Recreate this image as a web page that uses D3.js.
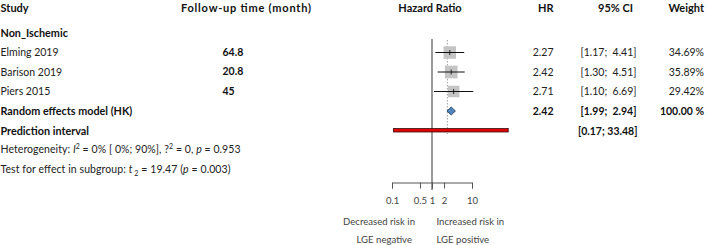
<!DOCTYPE html>
<html>
<head>
<meta charset="utf-8">
<script src="https://cdn.jsdelivr.net/npm/d3@7"></script>
<style>
  body { margin: 0; background: #fff; }
  svg { display: block; font-family: Lato, "Open Sans", sans-serif; }
</style>
</head>
<body>
<div id="chart"></div>
<script>
// ---- data ----
const studies = ["Elming 2019", "Barison 2019", "Piers 2015"];
const followUp = ["64.8", "20.8", "45"];
const hr = [2.27, 2.42, 2.71];
const lower = [1.17, 1.30, 1.10];
const upper = [4.41, 4.51, 6.69];
const weights = [34.69, 35.89, 29.42];
const pooled = [2.42, 1.99, 2.94];          // HR, lower, upper
const predInterval = [0.17, 33.48];
const axisTicks = [0.1, 0.5, 1, 2, 10];
const headers = ["Study", "Follow-up time (month)", "Hazard Ratio", "HR", "95% CI", "Weight"];

const width = 708, height = 245;
const svg = d3.select("#chart").append("svg")
  .attr("width", width).attr("height", height);

// row positions
const y = d3.scaleLinear().domain([0, 1]).range([33, 52.5]);
// marks scale and the printed axis scale (the axis in the figure is drawn narrower)
const x = d3.scaleLog().domain([1, 10]).range([432, 482]);
const xAxisScale = d3.scaleLog().domain([0.1, 10]).range([392, 472]);

const fmt = d3.format(".2f");
const ciText = (lo, hi) => `[${fmt(lo)}; ${fmt(hi)}]`;

// ---- headers ----
const hdr = svg.append("g").attr("font-weight", "bold").attr("font-size", 11).attr("fill", "#111");
hdr.append("text").attr("x", 0.5).attr("y", 11.5).text(headers[0]);
hdr.append("text").attr("x", 181).attr("y", 11.5).attr("textLength", 130).text(headers[1]);
hdr.append("text").attr("x", 430).attr("y", 11.5).attr("text-anchor", "middle").text(headers[2]);
hdr.append("text").attr("x", 553.5).attr("y", 11.5).attr("text-anchor", "end").text(headers[3]);
hdr.append("text").attr("x", 633).attr("y", 11.5).attr("text-anchor", "end").text(headers[4]);
hdr.append("text").attr("x", 704).attr("y", 11.5).attr("text-anchor", "end").text(headers[5]);

svg.append("text").attr("x", 0.5).attr("y", y(0) + 3.7)
  .attr("font-weight", "bold").attr("font-size", 10.8).attr("fill", "#111").text("Non_Ischemic");

// ---- reference lines ----
svg.append("line")
  .attr("x1", xAxisScale(1)).attr("x2", xAxisScale(1))
  .attr("y1", 39).attr("y2", 190)
  .attr("stroke", "#7a7a7a").attr("stroke-width", 1.5);

svg.append("line")
  .attr("x1", xAxisScale(pooled[0])).attr("x2", xAxisScale(pooled[0]))
  .attr("y1", 40).attr("y2", 134)
  .attr("stroke", "#888").attr("stroke-width", 0.8).attr("stroke-dasharray", "1.5,1.5");

// ---- study rows ----
const rows = svg.append("g").selectAll("g").data(studies).join("g");

rows.append("text").attr("x", 0.5).attr("y", (d, i) => y(i + 1) + 3.5)
  .attr("font-size", 10.5).attr("fill", "#222").text(d => d);
rows.append("text").attr("x", 222.5).attr("y", (d, i) => y(i + 1) + 3.2)
  .attr("font-size", 10.5).attr("font-weight", "bold").attr("fill", "#111").text((d, i) => followUp[i]);

rows.append("rect")
  .attr("x", (d, i) => x(hr[i]) - Math.sqrt(weights[i]) * 1.06)
  .attr("y", (d, i) => y(i + 1) - Math.sqrt(weights[i]) * 1.06)
  .attr("width", (d, i) => Math.sqrt(weights[i]) * 2.12)
  .attr("height", (d, i) => Math.sqrt(weights[i]) * 2.12)
  .attr("fill", "#c4c4c4");
rows.append("line")
  .attr("x1", (d, i) => x(lower[i])).attr("x2", (d, i) => x(upper[i]))
  .attr("y1", (d, i) => y(i + 1)).attr("y2", (d, i) => y(i + 1))
  .attr("stroke", "#111").attr("stroke-width", 1);
rows.append("line")
  .attr("x1", (d, i) => x(hr[i])).attr("x2", (d, i) => x(hr[i]))
  .attr("y1", (d, i) => y(i + 1) - 2.5).attr("y2", (d, i) => y(i + 1) + 2.5)
  .attr("stroke", "#111").attr("stroke-width", 0.9);

const cols = rows.append("g").attr("font-size", 10.5).attr("fill", "#222");
cols.append("text").attr("x", 553.5).attr("y", (d, i) => y(i + 1) + 3.5)
  .attr("text-anchor", "end").text((d, i) => fmt(hr[i]));
cols.append("text").attr("x", 636.5).attr("y", (d, i) => y(i + 1) + 3.5)
  .attr("text-anchor", "end").attr("xml:space", "preserve")
  .text((d, i) => ciText(lower[i], upper[i]).replace("; ", ";  "));
cols.append("text").attr("x", 704).attr("y", (d, i) => y(i + 1) + 3.5)
  .attr("text-anchor", "end").text((d, i) => fmt(weights[i]) + "%");

// ---- pooled row ----
const yp = y(4);
svg.append("text").attr("x", 0.5).attr("y", yp + 3.5)
  .attr("font-size", 10.8).attr("font-weight", "bold").attr("fill", "#111").text("Random effects model (HK)");
svg.append("path")
  .attr("d", `M${x(pooled[1])},${yp} L${x(pooled[0])},${yp - 4} L${x(pooled[2])},${yp} L${x(pooled[0])},${yp + 4} Z`)
  .attr("fill", "#4f86bd").attr("stroke", "#1d3550").attr("stroke-width", 0.8);
const pg = svg.append("g").attr("font-size", 10.5).attr("font-weight", "bold").attr("fill", "#111");
pg.append("text").attr("x", 553.5).attr("y", yp + 3.5).attr("text-anchor", "end").text(fmt(pooled[0]));
pg.append("text").attr("x", 636.5).attr("y", yp + 3.5).attr("text-anchor", "end")
  .attr("xml:space", "preserve").text(ciText(pooled[1], pooled[2]).replace("; ", ";  "));
pg.append("text").attr("x", 704).attr("y", yp + 3.5).attr("text-anchor", "end").text("100.00 %");

// ---- prediction interval ----
const yq = y(5);
svg.append("text").attr("x", 0.5).attr("y", yq + 4)
  .attr("font-size", 10.8).attr("font-weight", "bold").attr("fill", "#111").text("Prediction interval");
svg.append("rect")
  .attr("x", x(predInterval[0])).attr("y", yq - 2)
  .attr("width", x(predInterval[1]) - x(predInterval[0])).attr("height", 3.5)
  .attr("fill", "#e00000").attr("stroke", "#3a1010").attr("stroke-width", 0.8);
svg.append("text").attr("x", 637.5).attr("y", yq + 4).attr("text-anchor", "end")
  .attr("font-size", 10.5).attr("font-weight", "bold").attr("fill", "#111")
  .text(ciText(predInterval[0], predInterval[1]));

// ---- heterogeneity / test text ----
const het = svg.append("text").attr("x", 0.5).attr("y", 153.3).attr("font-size", 10.5).attr("fill", "#222")
  .attr("textLength", 240).attr("lengthAdjust", "spacing");
het.append("tspan").text("Heterogeneity: ");
het.append("tspan").attr("font-style", "italic").text("I");
het.append("tspan").attr("dy", -4).attr("font-size", 7).text("2");
het.append("tspan").attr("dy", 4).text(" = 0% [ 0%; 90%], ?");
het.append("tspan").attr("dy", -4).attr("font-size", 7).text("2");
het.append("tspan").attr("dy", 4).text(" = 0, ");
het.append("tspan").attr("font-style", "italic").text("p");
het.append("tspan").text("  = 0.953");

const tst = svg.append("text").attr("x", 0.5).attr("y", 173.3).attr("font-size", 10.5).attr("fill", "#222")
  .attr("textLength", 230).attr("lengthAdjust", "spacing");
tst.append("tspan").text("Test for effect in subgroup: ");
tst.append("tspan").attr("font-style", "italic").text("t");
tst.append("tspan").attr("dy", 2.5).attr("font-size", 7).text(" 2");
tst.append("tspan").attr("dy", -2.5).text("  = 19.47 (");
tst.append("tspan").attr("font-style", "italic").text("p");
tst.append("tspan").text("  = 0.003)");

// ---- axis ----
const axis = svg.append("g").attr("transform", "translate(0,182.5)")
  .call(d3.axisBottom(xAxisScale).tickValues(axisTicks).tickFormat(d => String(d)).tickSize(6).tickPadding(9));
axis.select(".domain").attr("stroke", "#555");
axis.selectAll(".tick line").attr("stroke", "#555");
axis.selectAll(".tick text").attr("font-family", "Lato, sans-serif").attr("font-size", 9.5).attr("fill", "#444");

// ---- direction labels ----
const lab = svg.append("g").attr("font-size", 9.6).attr("fill", "#444");
lab.append("text").attr("x", 415).attr("y", 225).attr("text-anchor", "end").text("Decreased risk in");
lab.append("text").attr("x", 412).attr("y", 243).attr("text-anchor", "end").text("LGE negative");
lab.append("text").attr("x", 436.5).attr("y", 225).text("Increased risk in");
lab.append("text").attr("x", 436.5).attr("y", 243).text("LGE positive");
</script>
</body>
</html>
